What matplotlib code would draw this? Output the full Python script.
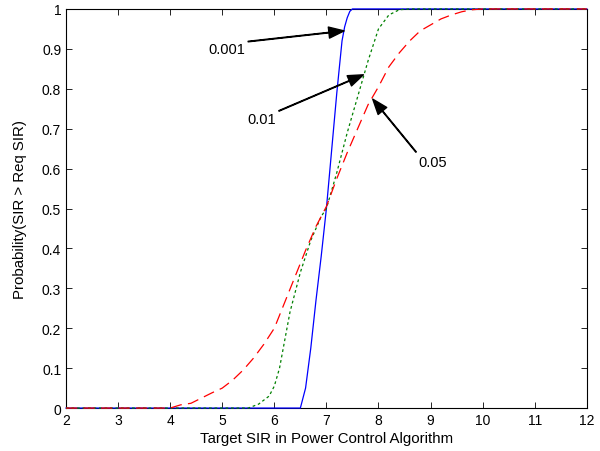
import matplotlib
matplotlib.use("Agg")
import matplotlib.pyplot as plt

plt.rcParams['font.family'] = ['Liberation Sans', 'DejaVu Sans']

# Curves (target SIR vs probability)
x_001 = [2, 6.5, 6.6, 6.7, 6.8, 6.9, 7.0, 7.1, 7.2, 7.3, 7.35, 7.4, 7.45, 7.5, 12]
p_001 = [0, 0, 0.05, 0.15, 0.27, 0.38, 0.5, 0.645, 0.79, 0.92, 0.955, 0.978,
         0.994, 1.0, 1.0]

x_01 = [2, 5.5, 5.7, 5.9, 6.0, 6.1, 6.2, 6.3, 6.5, 6.7, 6.9, 7.0, 7.2, 7.4,
        7.6, 7.8, 8.0, 8.2, 8.4, 8.6, 12]
p_01 = [0, 0, 0.01, 0.03, 0.055, 0.1, 0.17, 0.24, 0.34, 0.42, 0.48, 0.5,
        0.59, 0.69, 0.78, 0.87, 0.95, 0.985, 0.998, 1.0, 1.0]

x_05 = [2, 4.0, 4.2, 4.4, 4.6, 4.8, 5.0, 5.2, 5.4, 5.6, 5.8, 6.0, 6.2, 6.4,
        6.6, 6.8, 7.0, 7.2, 7.4, 7.6, 7.8, 8.0, 8.2, 8.4, 8.6, 8.8, 9.0,
        9.2, 9.4, 9.6, 9.8, 10.0, 12]
p_05 = [0, 0, 0.008, 0.012, 0.025, 0.038, 0.05, 0.07, 0.095, 0.125, 0.16,
        0.2, 0.265, 0.33, 0.395, 0.455, 0.505, 0.575, 0.64, 0.7, 0.76, 0.805,
        0.855, 0.89, 0.92, 0.945, 0.96, 0.975, 0.985, 0.993, 0.998, 1.0, 1.0]

fig = plt.figure(figsize=(6, 4.52), dpi=100)
ax = fig.add_axes([0.11, 0.095, 0.868, 0.883])

ax.plot(x_001, p_001, color='b', lw=0.9, clip_on=False, zorder=3)
ax.plot(x_01, p_01, color=(0, 0.5, 0), lw=0.9, dashes=(2.2, 2.2), clip_on=False, zorder=3)
ax.plot(x_05, p_05, color='r', lw=0.9, dashes=(9, 5), clip_on=False, zorder=3)

arrow = dict(facecolor='black', edgecolor='black', width=0.4, headwidth=8,
             headlength=11, shrink=0)
ax.annotate('0.001', xy=(7.34, 0.945), xytext=(5.09, 0.90), fontsize=10.5,
            ha='center', va='center', arrowprops=arrow)
ax.annotate('0.01', xy=(7.71, 0.835), xytext=(5.76, 0.724), fontsize=10.5,
            ha='center', va='center', arrowprops=arrow)
ax.annotate('0.05', xy=(7.89, 0.774), xytext=(9.04, 0.617), fontsize=10.5,
            ha='center', va='center', arrowprops=arrow)

ax.set_xlim(2, 12)
ax.set_ylim(0, 1)
ax.set_xticks(range(2, 13))
ax.set_yticks([i / 10 for i in range(11)])
ax.set_yticklabels(['0', '0.1', '0.2', '0.3', '0.4', '0.5', '0.6', '0.7',
                    '0.8', '0.9', '1'])
ax.tick_params(direction='in', top=True, right=True, labelsize=10, length=4,
               width=0.6)
for s in ax.spines.values():
    s.set_linewidth(0.8)

ax.set_xlabel('Target SIR in Power Control Algorithm', fontsize=10.8)
ax.set_ylabel('Probability(SIR > Req SIR)', fontsize=10.8)
ax.xaxis.set_label_coords(0.5, -0.058)
ax.yaxis.set_label_coords(-0.074, 0.5)

fig.savefig('out.png', dpi=100)
